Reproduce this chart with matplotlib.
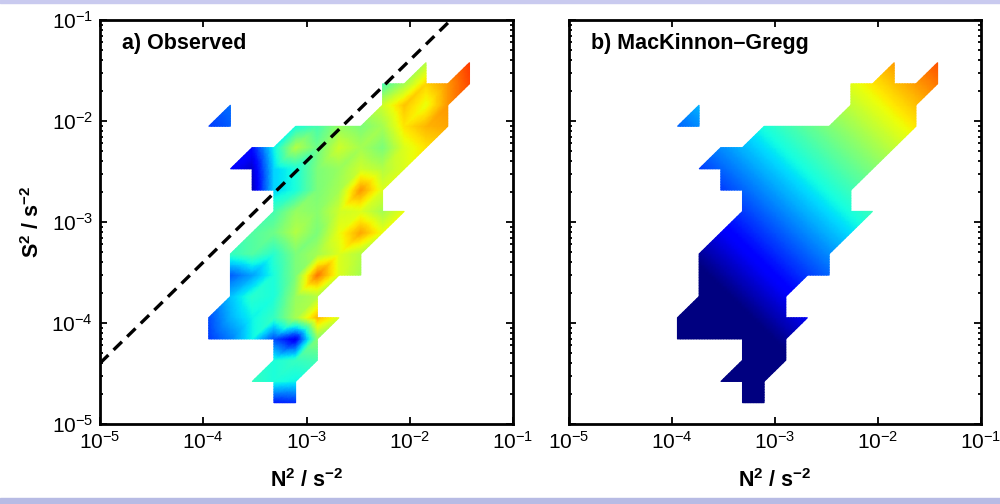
import numpy as np
import matplotlib
matplotlib.use('Agg')
import matplotlib.pyplot as plt
import matplotlib.tri as mtri
from matplotlib.patches import Rectangle
from matplotlib.ticker import LogLocator, NullLocator, NullFormatter

plt.rcParams.update({
    'font.family': ['Liberation Sans', 'DejaVu Sans'],
    'font.size': 13,
    'mathtext.fontset': 'custom',
    'mathtext.rm': 'Liberation Sans',
    'mathtext.bf': 'Liberation Sans:bold',
    'mathtext.it': 'Liberation Sans:italic',
})

nan = np.nan

#%% bin centres (log10 N^2 and log10 S^2 share the same 20 bins)
log_bins = np.linspace(-5, -1, 20)

# log10(epsilon) per bin, row = S^2 bin, (first N^2 bin, values); nan = empty bin
obs_rows = {
    1: (8, [-9.55, -9.50]),
    2: (7, [-8.75, -8.85, -8.90]),
    3: (8, [-8.85, -8.75, -8.70]),
    4: (5, [-9.45, -9.25, -8.90, -9.40, -9.70, -8.45]),
    5: (5, [-9.40, -9.10, -8.90, -8.75, -8.35, -7.85, -8.15]),
    6: (6, [-9.05, -8.80, -8.85, -8.40, -8.30]),
    7: (6, [-9.35, -9.15, -8.85, -8.50, -7.65, -8.15, -8.35]),
    8: (6, [-8.75, -8.65, -8.80, -8.50, -8.35, -8.15, -8.30]),
    9: (7, [-8.65, -8.55, -8.30, -8.50, -8.10, -7.80, -8.10]),
    10: (8, [-8.70, -8.40, -8.45, -8.20, -8.15, -8.35, -8.10]),
    11: (7, [-9.85, -9.00, -8.85, -8.50, -8.35, -7.75, -8.15]),
    12: (6, [-9.65, -9.80, -9.00, -8.85, -8.50, -8.40, -8.20, -8.30, -8.15]),
    13: (7, [-9.60, -8.90, -8.30, -8.55, -8.20, -8.35, -8.50, -8.15, -8.00]),
    14: (5, [-9.45, -9.35, nan, nan, -8.85, -8.70, -8.40, -8.50, -8.35, -8.00, -7.85, -7.80]),
    15: (6, [-9.30, nan, nan, nan, nan, nan, nan, -8.20, -7.90, -8.10, -7.75]),
    16: (13, [-8.70, -8.35, -7.95, -7.75, -7.50]),
    17: (15, [-8.30, nan, -7.45]),
}

mg_rows = {
    1: (8, [-10.53, -10.41]),
    2: (7, [-10.53, -10.41, -10.29]),
    3: (8, [-10.29, -10.17, -10.05]),
    4: (5, [-10.53, -10.41, -10.29, -10.17, -10.05, -9.93]),
    5: (5, [-10.41, -10.29, -10.17, -10.05, -9.93, -9.81, -9.69]),
    6: (6, [-10.17, -10.05, -9.93, -9.81, -9.69]),
    7: (6, [-10.05, -9.93, -9.81, -9.69, -9.57, -9.45, -9.33]),
    8: (6, [-9.93, -9.81, -9.69, -9.57, -9.45, -9.33, -9.21]),
    9: (7, [-9.69, -9.57, -9.45, -9.33, -9.21, -9.09, -8.97]),
    10: (8, [-9.45, -9.33, -9.21, -9.09, -8.97, -8.85, -8.73]),
    11: (7, [-9.45, -9.33, -9.21, -9.09, -8.97, -8.85, -8.73]),
    12: (6, [-9.45, -9.33, -9.21, -9.09, -8.97, -8.85, -8.73, -8.61, -8.49]),
    13: (7, [-9.21, -9.09, -8.97, -8.85, -8.73, -8.61, -8.49, -8.37, -8.25]),
    14: (5, [-9.33, -9.21, nan, nan, -8.85, -8.73, -8.61, -8.49, -8.37, -8.25, -8.13, -8.01]),
    15: (6, [-9.09, nan, nan, nan, nan, nan, nan, -8.25, -8.13, -8.01, -7.89]),
    16: (13, [-8.13, -8.01, -7.89, -7.77, -7.65]),
    17: (15, [-7.77, nan, -7.53]),
}

titles = ['a) Observed', 'b) MacKinnon\u2013Gregg']
ri_crit = 0.25          # S^2 = N^2 / Ri line
clim = (-10.0, -7.0)


def to_grid(rows):
    g = np.full((log_bins.size, log_bins.size), nan)
    for j, (i0, vals) in rows.items():
        g[j, i0:i0 + len(vals)] = vals
    return g


def shaded_mesh(grid):
    # split every bin square along its lower-left/upper-right diagonal and
    # keep the triangles whose three corners hold data (interp shading)
    n = log_bins.size
    ok = np.isfinite(grid)
    tris = []
    for j in range(n - 1):
        for i in range(n - 1):
            bl, br, tl, tr = (i, j), (i + 1, j), (i, j + 1), (i + 1, j + 1)
            for tri in ((bl, br, tr), (bl, tr, tl)):
                if all(ok[q[1], q[0]] for q in tri):
                    tris.append([q[1] * n + q[0] for q in tri])
    X, Y = np.meshgrid(log_bins, log_bins)
    t = mtri.Triangulation(X.ravel(), Y.ravel(), np.array(tris))
    z = np.nan_to_num(grid.ravel())
    lin = mtri.LinearTriInterpolator(t, z)
    return mtri.UniformTriRefiner(t).refine_field(z, triinterpolator=lin, subdiv=3)


fig = plt.figure(figsize=(10, 5.04), dpi=100)
fig.patches.append(Rectangle((0, 0), 1, 6 / 504, transform=fig.transFigure,
                             color='#b7bbe4', zorder=-1))
fig.patches.append(Rectangle((0, 1 - 2.5 / 504), 1, 2.5 / 504, transform=fig.transFigure,
                             color='#c9caef', zorder=-1))

boxes = [[100 / 1000, 1 - 424 / 504, 413 / 1000, 404 / 504],
         [569 / 1000, 1 - 424 / 504, 412 / 1000, 404 / 504]]

axes = []
for k, (box, rows) in enumerate(zip(boxes, [obs_rows, mg_rows])):
    # shaded field drawn in log10 units on a plain axes underneath
    base = fig.add_axes(box)
    tri, z = shaded_mesh(to_grid(rows))
    base.tripcolor(tri, z, shading='gouraud', cmap='jet', vmin=clim[0], vmax=clim[1])
    base.set_xlim(-5, -1)
    base.set_ylim(-5, -1)
    base.axis('off')

    ax = fig.add_axes(box)
    ax.patch.set_alpha(0)
    ax.set_xscale('log')
    ax.set_yscale('log')
    ax.set_xlim(1e-5, 1e-1)
    ax.set_ylim(1e-5, 1e-1)

    ax.xaxis.set_minor_locator(NullLocator())
    ax.yaxis.set_minor_locator(LogLocator(base=10, subs=np.arange(2, 10)))
    ax.yaxis.set_minor_formatter(NullFormatter())
    ax.tick_params(which='both', direction='in', top=True, right=True, width=1.3)
    ax.tick_params(which='major', length=5, labelsize=15, pad=5)
    ax.tick_params(which='minor', length=2.5)
    for sp in ax.spines.values():
        sp.set_linewidth(2)

    ax.set_xlabel(r'$\mathbf{N^2\ /\ s^{-2}}$', fontsize=15.5, labelpad=12)
    ax.text(0.053, 0.943, titles[k], transform=ax.transAxes, fontsize=15.5,
            fontweight='bold', va='center', ha='left')
    axes.append(ax)

# Ri = 1/4 line on the observations
n2_line = np.array([1e-5, 1e-1])
axes[0].plot(n2_line, n2_line / ri_crit, color='k', lw=2.4, ls=(0, (3.5, 2.2)))
axes[0].set_ylabel(r'$\mathbf{S^2\ /\ s^{-2}}$', fontsize=15.5, labelpad=5)
axes[1].tick_params(labelleft=False)

plt.savefig('out.png', dpi=100)
plt.close()
